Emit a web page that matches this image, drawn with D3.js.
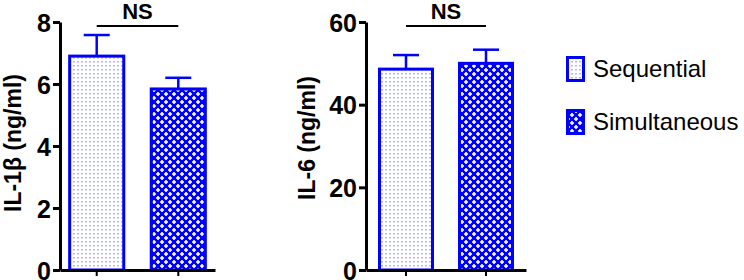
<!DOCTYPE html>
<html>
<head>
<meta charset="utf-8">
<script src="https://cdn.jsdelivr.net/npm/d3@7"></script>
<style>
  body { margin: 0; background: #fff; }
  svg { display: block; font-family: "Liberation Sans", Arial, sans-serif; }
</style>
</head>
<body>
<div id="chart"></div>
<script>
const groups = ["Sequential", "Simultaneous"];
const il1bMean = [6.9, 5.84];
const il1bErr = [7.58, 6.2];
const il6Mean = [48.6, 50.0];
const il6Err = [52.0, 53.3];
const il1bTicks = [0, 2, 4, 6, 8];
const il6Ticks = [0, 20, 40, 60];

const W = 744, H = 280;
const BLUE = "#0000ff";

const svg = d3.select("#chart").append("svg")
    .attr("width", W)
    .attr("height", H);

// fill patterns
const defs = svg.append("defs");

const dots = defs.append("pattern")
    .attr("id", "pat-dots")
    .attr("patternUnits", "userSpaceOnUse")
    .attr("width", 4)
    .attr("height", 4);
dots.append("rect").attr("width", 4).attr("height", 4).attr("fill", "#fff");
dots.append("rect").attr("x", 1).attr("y", 1).attr("width", 2).attr("height", 1.5).attr("fill", "#b4b4ff");

const cross = defs.append("pattern")
    .attr("id", "pat-cross")
    .attr("patternUnits", "userSpaceOnUse")
    .attr("width", 8)
    .attr("height", 8);
cross.append("rect").attr("width", 8).attr("height", 8).attr("fill", BLUE);
[[2, 2], [6, 6]].forEach(([cx, cy]) => {
    cross.append("path")
        .attr("d", `M${cx - 0.8},${cy - 2}h1.6v1.2h1.2v1.6h-1.2v1.2h-1.6v-1.2h-1.2v-1.6h1.2z`)
        .attr("fill", "#fff");
});

const fills = ["url(#pat-dots)", "url(#pat-cross)"];

function panel(opts) {
    const g = svg.append("g");

    const x = d3.scaleBand()
        .domain(groups)
        .range([opts.x0, opts.x1])
        .paddingInner(0.3)
        .paddingOuter(opts.outer);

    const y = d3.scaleLinear()
        .domain([0, opts.max])
        .range([270, 22]);

    // error bars (upper only)
    groups.forEach((k, i) => {
        const cx = x(k) + x.bandwidth() / 2;
        g.append("line")
            .attr("x1", cx).attr("x2", cx)
            .attr("y1", y(opts.mean[i])).attr("y2", y(opts.err[i]))
            .attr("stroke", BLUE).attr("stroke-width", 2.5);
        g.append("line")
            .attr("x1", cx - 13).attr("x2", cx + 13)
            .attr("y1", y(opts.err[i])).attr("y2", y(opts.err[i]))
            .attr("stroke", BLUE).attr("stroke-width", 2.5);
    });

    g.selectAll("rect.bar")
        .data(groups)
        .join("rect")
        .attr("class", "bar")
        .attr("x", d => x(d) + 1.5)
        .attr("width", x.bandwidth() - 3)
        .attr("y", (d, i) => y(opts.mean[i]))
        .attr("height", (d, i) => y(0) - y(opts.mean[i]))
        .attr("fill", (d, i) => fills[i])
        .attr("stroke", BLUE)
        .attr("stroke-width", 3);

    // y axis
    const yAxis = g.append("g")
        .attr("transform", `translate(${opts.x0},0)`)
        .call(d3.axisLeft(y).tickValues(opts.ticks).tickSize(7).tickPadding(2).tickSizeOuter(0));
    yAxis.select(".domain").attr("stroke", "#000").attr("stroke-width", 3);
    yAxis.selectAll(".tick line").attr("stroke", "#000").attr("stroke-width", 3);
    yAxis.selectAll(".tick text")
        .attr("fill", "#000")
        .style("font-size", "25px")
        .style("font-weight", "bold")
        .attr("dy", "0.36em");

    // x axis
    const xAxis = g.append("g")
        .attr("transform", `translate(0,${y(0)})`)
        .call(d3.axisBottom(x).tickSize(6).tickSizeOuter(0).tickFormat(""));
    xAxis.select(".domain").attr("stroke", "#000").attr("stroke-width", 3);
    xAxis.selectAll(".tick line").attr("stroke", "#000").attr("stroke-width", 2);

    // y label
    g.append("text")
        .attr("transform", `translate(${opts.labelX},${opts.labelY}) rotate(-90)`)
        .attr("text-anchor", "middle")
        .style("font-size", "23px")
        .style("font-weight", "bold")
        .text(opts.label);

    // NS bracket
    const c0 = x(groups[0]) + x.bandwidth() / 2;
    const c1 = x(groups[1]) + x.bandwidth() / 2;
    g.append("line")
        .attr("x1", c0).attr("x2", c1)
        .attr("y1", 26).attr("y2", 26)
        .attr("stroke", "#000").attr("stroke-width", 2);
    g.append("text")
        .attr("x", (c0 + c1) / 2)
        .attr("y", 19)
        .attr("text-anchor", "middle")
        .style("font-size", "22px")
        .style("font-weight", "bold")
        .text("NS");
}

panel({
    x0: 60, x1: 215, outer: 0.1, max: 8, ticks: il1bTicks,
    mean: il1bMean, err: il1bErr,
    label: "IL-1β (ng/ml)", labelX: 21, labelY: 143
});

panel({
    x0: 366, x1: 526, outer: 0.15, max: 60, ticks: il6Ticks,
    mean: il6Mean, err: il6Err,
    label: "IL-6 (ng/ml)", labelX: 315, labelY: 138
});

// legend
const legend = svg.append("g").attr("transform", "translate(566,56)");
groups.forEach((k, i) => {
    const row = legend.append("g").attr("transform", `translate(0,${i * 53})`);
    row.append("rect")
        .attr("x", 1.5).attr("y", 1.5)
        .attr("width", 16).attr("height", 23)
        .attr("fill", fills[i])
        .attr("stroke", BLUE)
        .attr("stroke-width", 3);
    row.append("text")
        .attr("x", 27)
        .attr("y", 21)
        .style("font-size", "24px")
        .text(k);
});
</script>
</body>
</html>
